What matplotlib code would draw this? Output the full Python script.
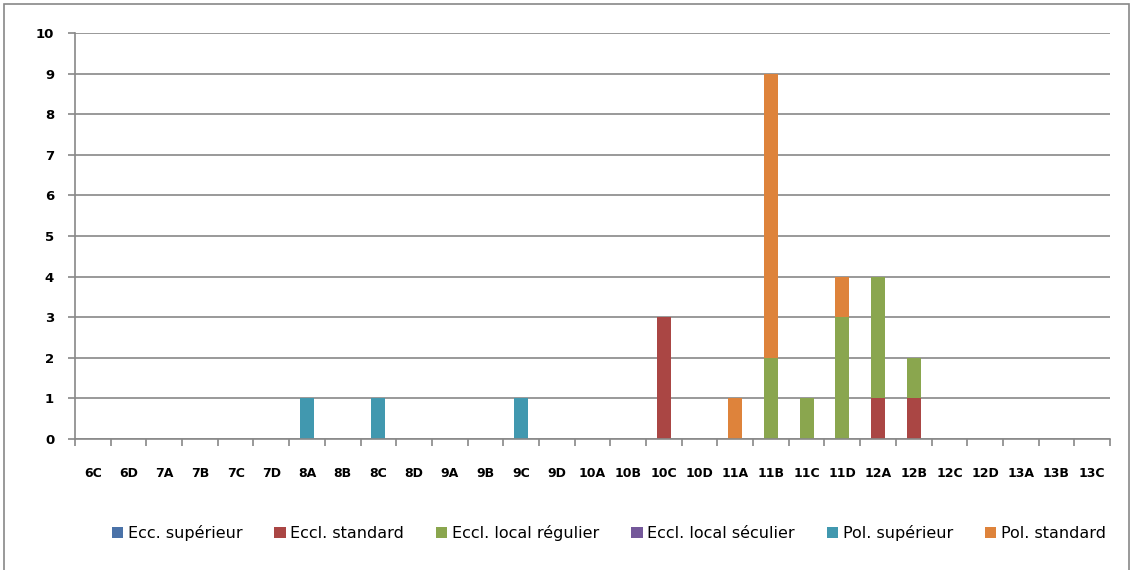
import matplotlib.pyplot as plt
import numpy as np
from matplotlib.patches import Rectangle

categories = ['6C', '6D', '7A', '7B', '7C', '7D', '8A', '8B', '8C', '8D', '9A', '9B',
              '9C', '9D', '10A', '10B', '10C', '10D', '11A', '11B', '11C', '11D',
              '12A', '12B', '12C', '12D', '13A', '13B', '13C']

series_names = ['Ecc. supérieur', 'Eccl. standard', 'Eccl. local régulier',
                'Eccl. local séculier', 'Pol. supérieur', 'Pol. standard']

ecc_superieur = [0] * 29
eccl_standard = [0, 0, 0, 0, 0, 0, 0, 0, 0, 0, 0, 0, 0, 0, 0, 0, 3, 0, 0, 0, 0, 0, 1, 1, 0, 0, 0, 0, 0]
eccl_local_regulier = [0, 0, 0, 0, 0, 0, 0, 0, 0, 0, 0, 0, 0, 0, 0, 0, 0, 0, 0, 2, 1, 3, 3, 1, 0, 0, 0, 0, 0]
eccl_local_seculier = [0] * 29
pol_superieur = [0, 0, 0, 0, 0, 0, 1, 0, 1, 0, 0, 0, 1, 0, 0, 0, 0, 0, 0, 0, 0, 0, 0, 0, 0, 0, 0, 0, 0]
pol_standard = [0, 0, 0, 0, 0, 0, 0, 0, 0, 0, 0, 0, 0, 0, 0, 0, 0, 0, 1, 7, 0, 1, 0, 0, 0, 0, 0, 0, 0]

series = [ecc_superieur, eccl_standard, eccl_local_regulier,
          eccl_local_seculier, pol_superieur, pol_standard]
colors = ['#4A72A8', '#AA4644', '#8AA64E', '#74589A', '#4198AF', '#DE833B']

W, H = 1132, 570
fig = plt.figure(figsize=(W / 100, H / 100), dpi=100)
fig.patches.append(Rectangle((4 / W, -0.1), 1125 / W, 1.1 - 4 / H, transform=fig.transFigure,
                             fill=False, edgecolor='#888888', linewidth=1.2))

ax = fig.add_axes([75 / W, 1 - 439 / H, (1110 - 75) / W, (439 - 33) / H])
x = np.arange(len(categories))
bottom = np.zeros(len(categories))
handles = []
for name, vals, c in zip(series_names, series, colors):
    vals = np.array(vals, dtype=float)
    b = ax.bar(x, vals, width=0.4, bottom=bottom, color=c, label=name)
    handles.append(b)
    bottom += vals

ax.set_xlim(-0.5, len(categories) - 0.5)
ax.set_ylim(0, 10)
ax.set_yticks(range(0, 11))
ax.yaxis.grid(True, color='#888888', linewidth=1.2)
ax.set_axisbelow(True)
for s in ['top', 'right']:
    ax.spines[s].set_visible(False)
for s in ['left', 'bottom']:
    ax.spines[s].set_color('#888888')
    ax.spines[s].set_linewidth(1.2)

# ticks between categories, labels centred on bars
ax.set_xticks(np.arange(-0.5, len(categories)), minor=False)
ax.set_xticklabels([])
ax.set_xticks(x, minor=True)
ax.set_xticklabels(categories, minor=True, fontsize=9, fontweight='bold')
ax.tick_params(axis='x', which='major', length=5, color='#888888', width=1.2)
ax.tick_params(axis='x', which='minor', length=0, pad=20)
ax.tick_params(axis='y', length=5, color='#888888', width=1.2, labelsize=9.5, pad=10)
for t in ax.get_yticklabels():
    t.set_fontweight('bold')

fig.legend(handles=handles, labels=series_names, loc='center', bbox_to_anchor=(0.538, 1 - 533 / H),
           ncol=6, frameon=False, fontsize=11.5, handlelength=0.7, handleheight=0.7,
           handletextpad=0.3, columnspacing=2.0)

fig.savefig('out.png', dpi=100)
